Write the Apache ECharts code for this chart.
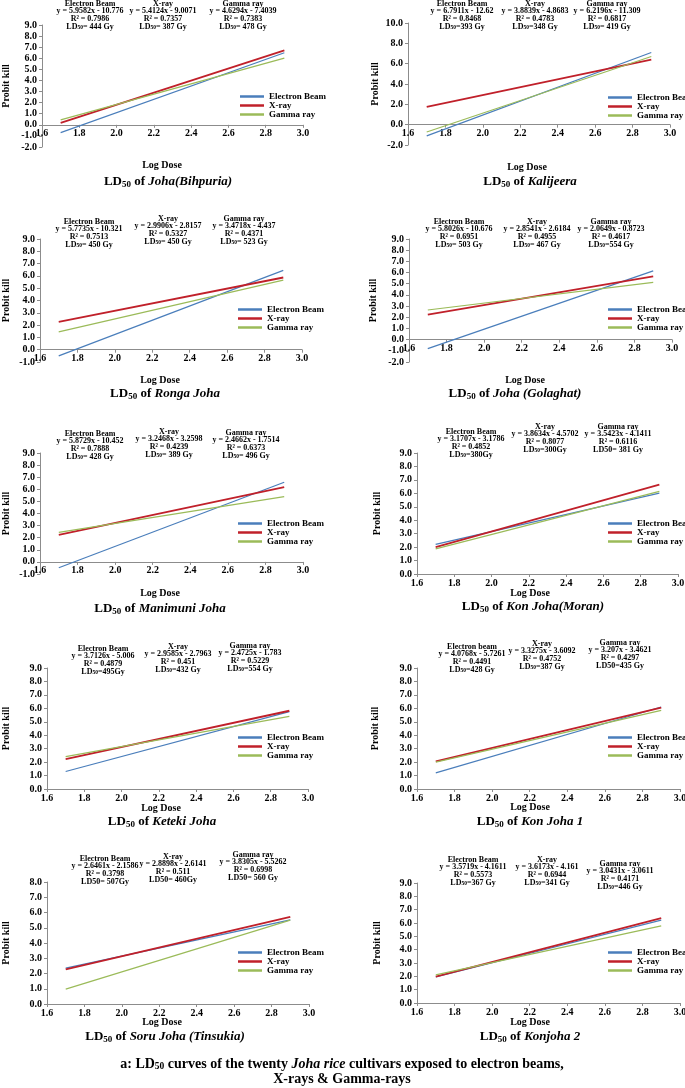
<!DOCTYPE html>
<html>
<head>
<meta charset="utf-8">
<script src="https://cdn.jsdelivr.net/npm/echarts@6/dist/echarts.min.js"></script>
<style>
  html, body { margin: 0; padding: 0; background: #fff; }
  #chart { width: 685px; height: 1088px; }
</style>
</head>
<body>
<div id="chart"></div>
<script>
// ---- data ----
const cultivars = ['Joha(Bihpuria)', 'Kalijeera', 'Ronga Joha', 'Joha (Golaghat)', 'Manimuni Joha',
  'Kon Joha(Moran)', 'Keteki Joha', 'Kon Joha 1', 'Soru Joha (Tinsukia)', 'Konjoha 2'];
const seriesNames = ['Electron Beam', 'X-ray', 'Gamma ray'];
const doseEnds = [1.7, 2.9];
// probit kill at log dose 1.7 and 2.9, per panel
const ebEnds = [[-0.7, 6.5], [-1.1, 7.1], [-0.5, 6.45], [-0.8, 6.15], [-0.48, 6.58],
  [2.2, 6.02], [1.3, 5.75], [1.2, 6.1], [2.35, 5.52], [1.95, 6.22]];
const xrEnds = [[0.17, 6.72], [1.75, 6.4], [2.26, 5.87], [2.24, 5.66], [2.24, 6.17],
  [2.0, 6.64], [2.23, 5.82], [2.05, 6.05], [2.27, 5.72], [1.98, 6.36]];
const gmEnds = [[0.45, 6.02], [-0.72, 6.7], [1.45, 5.65], [2.65, 5.12], [2.44, 5.4],
  [1.87, 6.14], [2.41, 5.4], [2.0, 5.85], [0.98, 5.5], [2.11, 5.78]];
const yMins = [-2, -2, -1, -2, -1, 0, 0, 0, 0, 0];
const yMaxs = [9, 10, 9, 9, 9, 9, 9, 9, 8, 9];
const ySteps = [1, 2, 1, 1, 1, 1, 1, 1, 1, 1];
const xMin = 1.6, xMax = 3.0, xStep = 0.2;

const ebLabels = [
  ['Electron Beam', 'y = 5.9582x - 10.776', 'R² = 0.7986', 'LD{s|50}= 444 Gy'],
  ['Electron Beam', 'y = 6.7911x - 12.62', 'R² = 0.8468', 'LD{s|50}=393 Gy'],
  ['Electron Beam', 'y = 5.7735x - 10.321', 'R² = 0.7513', 'LD{s|50}= 450 Gy'],
  ['Electron Beam', 'y = 5.8026x - 10.676', 'R² = 0.6951', 'LD{s|50}= 503 Gy'],
  ['Electron Beam', 'y = 5.8729x - 10.452', 'R² = 0.7888', 'LD{s|50}= 428 Gy'],
  ['Electron Beam', 'y = 3.1707x - 3.1786', 'R² = 0.4852', 'LD{s|50}=380Gy'],
  ['Electron Beam', 'y = 3.7126x - 5.006', 'R² = 0.4879', 'LD{s|50}=495Gy'],
  ['Electron beam', 'y = 4.0768x - 5.7261', 'R² = 0.4491', 'LD{s|50}=428 Gy'],
  ['Electron Beam', 'y = 2.6461x - 2.1586', 'R² = 0.3798', 'LD50= 507Gy'],
  ['Electron Beam', 'y = 3.5719x - 4.1611', 'R² = 0.5573', 'LD{s|50}=367 Gy']
];
const xrLabels = [
  ['X-ray', 'y = 5.4124x - 9.0071', 'R² = 0.7357', 'LD{s|50}= 387 Gy'],
  ['X-ray', 'y = 3.8839x - 4.8683', 'R² = 0.4783', 'LD{s|50}=348 Gy'],
  ['X-ray', 'y = 2.9906x - 2.8157', 'R² = 0.5327', 'LD{s|50}= 450 Gy'],
  ['X-ray', 'y = 2.8541x - 2.6184', 'R² = 0.4955', 'LD{s|50}= 467 Gy'],
  ['X-ray', 'y = 3.2468x - 3.2598', 'R² = 0.4239', 'LD{s|50}= 389 Gy'],
  ['X-ray', 'y = 3.8634x - 4.5702', 'R² = 0.8077', 'LD{s|50}=300Gy'],
  ['X-ray', 'y = 2.9585x - 2.7963', 'R² = 0.451', 'LD{s|50}=432 Gy'],
  ['X-ray', 'y = 3.3275x - 3.6092', 'R² = 0.4752', 'LD{s|50}=387 Gy'],
  ['X-ray', 'y = 2.8898x - 2.6141', 'R² = 0.511', 'LD50= 460Gy'],
  ['X-ray', 'y = 3.6173x - 4.161', 'R² = 0.6944', 'LD{s|50}=341 Gy']
];
const gmLabels = [
  ['Gamma ray', 'y = 4.6294x - 7.4039', 'R² = 0.7383', 'LD{s|50}= 478 Gy'],
  ['Gamma ray', 'y = 6.2196x - 11.309', 'R² = 0.6817', 'LD{s|50}= 419 Gy'],
  ['Gamma ray', 'y = 3.4718x - 4.437', 'R² = 0.4371', 'LD{s|50}= 523 Gy'],
  ['Gamma ray', 'y = 2.0649x - 0.8723', 'R² = 0.4617', 'LD{s|50}=554 Gy'],
  ['Gamma ray', 'y = 2.4662x - 1.7514', 'R² = 0.6373', 'LD{s|50}= 496 Gy'],
  ['Gamma ray', 'y = 3.5423x - 4.1411', 'R² = 0.6116', 'LD50= 381 Gy'],
  ['Gamma ray', 'y = 2.4725x - 1.783', 'R² = 0.5229', 'LD{s|50}=554 Gy'],
  ['Gamma ray', 'y = 3.207x - 3.4621', 'R² = 0.4297', 'LD50=435 Gy'],
  ['Gamma ray', 'y = 3.8305x - 5.5262', 'R² = 0.6998', 'LD50= 560 Gy'],
  ['Gamma ray', 'y = 3.0431x - 3.0611', 'R² = 0.4171', 'LD{s|50}=446 Gy']
];

// ---- layout (pixels) ----
const panels = [
  { grid: [42, 25, 261, 122], nameGap: 31, hdr: [[90, 4], [163, 4], [243, 4]], legend: [240, 92], dose: [162, 165], title: [168, 182] },
  { grid: [408, 23, 262, 122], nameGap: 28, hdr: [[462, 4], [535, 4], [607, 4]], legend: [608, 93], dose: [527, 167], title: [530, 182] },
  { grid: [40, 239, 262, 123], nameGap: 29, hdr: [[89, 222], [168, 219], [244, 219]], legend: [238, 305], dose: [160, 380], title: [165, 394] },
  { grid: [409, 239, 263, 123], nameGap: 31, hdr: [[459, 222], [537, 222], [611, 222]], legend: [608, 305], dose: [525, 380], title: [515, 394] },
  { grid: [40, 453, 263, 121], nameGap: 29, hdr: [[90, 434], [169, 432], [246, 433]], legend: [238, 519], dose: [160, 593], title: [160, 609] },
  { grid: [417, 453, 261, 121], nameGap: 35, hdr: [[471, 432], [545, 427], [618, 427]], legend: [608, 519], dose: [530, 593], title: [533, 607] },
  { grid: [47, 668, 261, 121], nameGap: 36, hdr: [[103, 649], [178, 647], [250, 646]], legend: [238, 733], dose: [161, 808], title: [162, 822] },
  { grid: [417, 668, 263, 121], nameGap: 37, hdr: [[472, 647], [542, 644], [620, 643]], legend: [608, 733], dose: [530, 807], title: [530, 822] },
  { grid: [47, 882, 262, 122], nameGap: 36, hdr: [[105, 859], [173, 857], [253, 855]], legend: [238, 948], dose: [162, 1022], title: [165, 1037] },
  { grid: [417, 883, 263, 120], nameGap: 35, hdr: [[473, 860], [547, 860], [620, 864]], legend: [608, 948], dose: [530, 1022], title: [530, 1037] }
];

const FONT = '"Liberation Serif", "DejaVu Serif", serif';
const colors = ['#4a7ebb', '#c0202a', '#9bbb59'];
const widths = [1.2, 1.8, 1.2];
const axisGrey = '#8c8c8c';

const grids = [], xAxes = [], yAxes = [], series = [], legends = [], graphics = [];

panels.forEach((p, i) => {
  grids.push({ left: p.grid[0], top: p.grid[1], width: p.grid[2], height: p.grid[3], containLabel: false, outerBoundsMode: 'none' });
  // x axis sits on the zero line of the probit scale
  const zeroShift = -p.grid[3] * (0 - yMins[i]) / (yMaxs[i] - yMins[i]);
  xAxes.push({
    gridIndex: i, type: 'value', min: xMin, max: xMax, interval: xStep,
    position: 'bottom', offset: zeroShift,
    axisLine: { onZero: false, lineStyle: { color: axisGrey } },
    axisTick: { show: true, length: 3, lineStyle: { color: axisGrey } },
    splitLine: { show: false },
    axisLabel: { formatter: v => v.toFixed(1), color: '#000', fontFamily: FONT, fontWeight: 'bold', fontSize: 10, margin: 4 }
  });
  yAxes.push({
    gridIndex: i, type: 'value', min: yMins[i], max: yMaxs[i], interval: ySteps[i],
    name: 'Probit kill', nameLocation: 'middle', nameGap: p.nameGap,
    nameTextStyle: { color: '#000', fontFamily: FONT, fontWeight: 'bold', fontSize: 10 },
    axisLine: { show: true, onZero: false, lineStyle: { color: axisGrey } },
    axisTick: { show: true, length: 3, lineStyle: { color: axisGrey } },
    splitLine: { show: false },
    axisLabel: { formatter: v => v.toFixed(1), color: '#000', fontFamily: FONT, fontWeight: 'bold', fontSize: 10, margin: 5 }
  });
  [ebEnds, xrEnds, gmEnds].forEach((ends, k) => {
    series.push({
      name: seriesNames[k], type: 'line', xAxisIndex: i, yAxisIndex: i,
      data: doseEnds.map((d, j) => [d, ends[i][j]]),
      showSymbol: false, silent: true, animation: false,
      lineStyle: { color: colors[k], width: widths[k] }, itemStyle: { color: colors[k] }
    });
  });
  legends.push({
    data: seriesNames, orient: 'vertical', left: p.legend[0], top: p.legend[1], padding: 0,
    itemGap: 0, itemWidth: 24, itemHeight: 2.5, icon: 'rect', selectedMode: false,
    textStyle: { color: '#000', fontFamily: FONT, fontWeight: 'bold', fontSize: 9, lineHeight: 7.6, padding: [0, 0, 0, 0] }
  });
  [ebLabels, xrLabels, gmLabels].forEach((lab, k) => {
    graphics.push({
      type: 'text', x: p.hdr[k][0], y: p.hdr[k][1] - 4, silent: true,
      style: {
        text: lab[i].join('\n'), align: 'center', verticalAlign: 'top',
        font: 'bold 8px ' + FONT, lineHeight: 7.6, fill: '#000',
        rich: { s: { fontSize: 5.5, fontWeight: 'bold', fontFamily: FONT, lineHeight: 4.5, verticalAlign: 'bottom' } }
      }
    });
  });
  graphics.push({
    type: 'text', x: p.dose[0], y: p.dose[1], silent: true,
    style: { text: 'Log Dose', align: 'center', verticalAlign: 'middle', font: 'bold 10px ' + FONT, fill: '#000' }
  });
  graphics.push({
    type: 'text', x: p.title[0], y: p.title[1], silent: true,
    style: {
      text: 'LD{s|50} of {i|' + cultivars[i] + '}', align: 'center', verticalAlign: 'middle',
      font: 'bold 13px ' + FONT, fill: '#000', lineHeight: 15,
      rich: {
        s: { fontSize: 9, fontWeight: 'bold', fontFamily: FONT, lineHeight: 7, verticalAlign: 'bottom' },
        i: { fontSize: 13, fontWeight: 'bold', fontStyle: 'italic', fontFamily: FONT, lineHeight: 15 }
      }
    }
  });
});

graphics.push({
  type: 'text', x: 342, y: 1072, silent: true,
  style: {
    text: 'a: LD{s|50} curves of the twenty {i|Joha rice} cultivars exposed to electron beams,\nX-rays & Gamma-rays',
    align: 'center', verticalAlign: 'middle', font: 'bold 14px ' + FONT, fill: '#000', lineHeight: 15,
    rich: {
      s: { fontSize: 9.5, fontWeight: 'bold', fontFamily: FONT, lineHeight: 7, verticalAlign: 'bottom' },
      i: { fontSize: 14, fontWeight: 'bold', fontStyle: 'italic', fontFamily: FONT, lineHeight: 15 }
    }
  }
});

const chart = echarts.init(document.getElementById('chart'), null, { renderer: 'canvas' });
chart.setOption({
  backgroundColor: '#fff',
  animation: false,
  grid: grids,
  xAxis: xAxes,
  yAxis: yAxes,
  legend: legends,
  series: series,
  graphic: graphics
});
</script>
</body>
</html>
